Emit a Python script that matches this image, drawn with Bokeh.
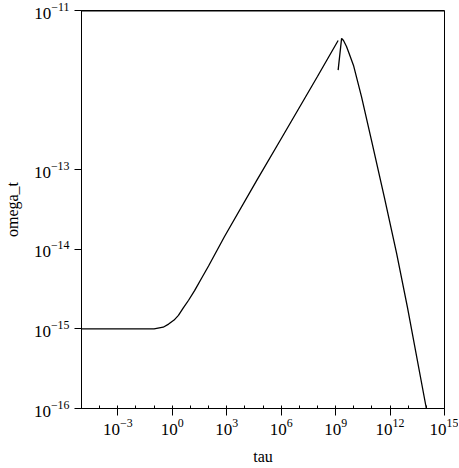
from bokeh.plotting import figure
from bokeh.models import FixedTicker, LogTickFormatter, Span, Range1d
from bokeh.embed import file_html
from bokeh.resources import INLINE

# Rising branch (tau, omega_t)
rise_tau = [1e-5, 1e-2, 1e-1, 0.316, 0.63, 1.26, 2.19, 3.98, 7.94, 17.0, 39.8, 100,
            759, 4.37e4, 1e6, 1e8, 1.38e9]
rise_omega = [1e-15, 1e-15, 1e-15, 1.05e-15, 1.15e-15, 1.29e-15, 1.48e-15, 1.82e-15,
              2.29e-15, 3.02e-15, 4.27e-15, 6.17e-15, 1.45e-14, 7.24e-14, 2.45e-13,
              1.48e-12, 4.2e-12]

# Falling branch, starting with the small spike below the peak
fall_tau = [1.38e9, 2.14e9, 2.72e9, 3.99e9, 5.83e9, 9.7e9, 2.67e10, 9.5e10, 4.9e11,
            2.3e12, 9.1e12, 1.0e14]
fall_omega = [1.78e-12, 4.47e-12, 4.2e-12, 3.53e-12, 2.8e-12, 2.04e-12, 8.3e-13,
              2.34e-13, 4.47e-14, 8.9e-15, 1.86e-15, 1e-16]

x_ticks = [1e-3, 1e0, 1e3, 1e6, 1e9, 1e12, 1e15]
x_minor = [10.0 ** k for k in range(-5, 16)]
y_ticks = [1e-16, 1e-15, 1e-14, 1e-13, 1e-11]

p = figure(x_axis_type="log", y_axis_type="log",
           x_range=Range1d(1e-5, 1e15), y_range=Range1d(1e-16, 1e-11),
           frame_width=363, frame_height=398,
           min_border_left=80, min_border_right=14, min_border_top=10, min_border_bottom=58,
           output_backend="svg", toolbar_location=None,
           x_axis_label="tau", y_axis_label="omega_t")

p.background_fill_color = "white"
p.border_fill_color = "white"
p.outline_line_color = "black"
p.outline_line_width = 1
p.xgrid.visible = False
p.ygrid.visible = False

for ax in (p.xaxis[0], p.yaxis[0]):
    ax.formatter = LogTickFormatter()
    ax.major_label_text_font = "Liberation Serif"
    ax.major_label_text_font_size = "17px"
    ax.major_label_text_color = "black"
    ax.axis_label_text_font = "Liberation Serif"
    ax.axis_label_text_font_size = "16px"
    ax.axis_label_text_font_style = "normal"
    ax.axis_label_text_color = "black"
    ax.axis_line_color = "black"
    ax.major_tick_line_color = "black"
    ax.major_tick_in = 0
    ax.major_tick_out = 7

p.xaxis[0].ticker = FixedTicker(ticks=x_ticks, minor_ticks=x_minor)
p.xaxis[0].minor_tick_in = 3
p.xaxis[0].minor_tick_out = 0
p.xaxis[0].minor_tick_line_color = "black"
p.xaxis[0].major_label_standoff = 3
p.xaxis[0].axis_label_standoff = 10

p.yaxis[0].ticker = FixedTicker(ticks=y_ticks, minor_ticks=[])
p.yaxis[0].minor_tick_line_color = None
p.yaxis[0].major_label_standoff = 5
p.yaxis[0].axis_label_standoff = 10

p.add_layout(Span(location=1e-11, dimension="width", line_color="black", line_width=2))

p.line(rise_tau, rise_omega, line_color="black", line_width=1.3)
p.line(fall_tau, fall_omega, line_color="black", line_width=1.3)

open("out.html", "w").write(file_html(p, INLINE))
